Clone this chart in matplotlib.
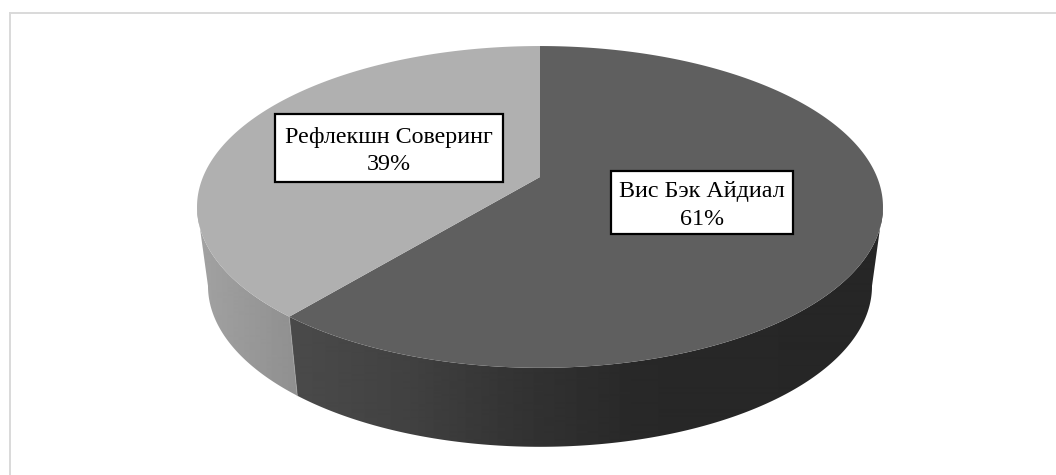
import numpy as np
import matplotlib
matplotlib.use("Agg")
import matplotlib.pyplot as plt
from matplotlib.patches import Polygon, Rectangle

# share of each slice, clockwise from 12 o'clock
labels = ["Вис Бэк Айдиал", "Рефлекшн Соверинг"]
shares = [61, 39]
top_colors = ["#5f5f5f", "#b0b0b0"]

# pie geometry in pixels of the picture (excel style perspective)
cx, cy = 540, 177
persp = 0.186
ky = -122.4
kx = 337
depth = 79
shrink = 0.968


def project(theta):
    # theta measured clockwise from top
    x = np.sin(theta)
    y = np.cos(theta)
    w = 1 + persp * y
    return cx + kx * x / w, (ky * y + cy) / w


def project_low(theta):
    px, py = project(theta)
    return cx + (px - cx) * shrink, py + depth


fig = plt.figure(figsize=(10.56, 4.75), dpi=100)
ax = fig.add_axes([0, 0, 1, 1])
ax.axis("off")

# frame, only top and left are visible in the crop
ax.plot([9.5, 1056], [12.5, 12.5], color="#d9d9d9", lw=1.4)
ax.plot([9.5, 9.5], [12.5, 475], color="#d9d9d9", lw=1.4)

edges = np.cumsum([0] + shares) / sum(shares) * 2 * np.pi

# shade of the side walls goes with x
xs = np.arange(190, 890)
wall_shades = [
    np.interp(xs, [296, 400, 520, 640, 880], [0x4a, 0x42, 0x33, 0x28, 0x26]),
    np.interp(xs, [197, 296], [0xa2, 0x90]),
]

# widest point of the perspective ellipse, the wall starts there
widest = np.arccos(-persp)

# side walls, only the part that faces the viewer
for i in range(len(shares)):
    a0 = max(edges[i], widest)
    a1 = min(edges[i + 1], 2 * np.pi - widest)
    t = np.linspace(a0, a1, 300)
    tx, ty = project(t)
    lx, ly = project_low(t)
    pts = np.column_stack([np.r_[tx, lx[::-1]], np.r_[ty, ly[::-1]]])
    clip = Polygon(pts, fc="none", ec="none", transform=ax.transData)
    ax.add_patch(clip)
    im = ax.imshow(wall_shades[i][None, :], cmap="gray", vmin=0, vmax=255, aspect="auto",
                   extent=[190, 890, 475, 0], interpolation="bilinear")
    im.set_clip_path(clip)

# light seam where the two walls meet
sx, sy = project(edges[1])
lx, ly = project_low(edges[1])
ax.plot([sx, lx], [sy, ly], color="#a8a8a8", lw=0.7, alpha=0.7)

# top face
for i in range(len(shares)):
    t = np.linspace(edges[i], edges[i + 1], 300)
    tx, ty = project(t)
    pts = np.column_stack([np.r_[tx, cx], np.r_[ty, cy]])
    ax.add_patch(Polygon(pts, fc=top_colors[i], ec="none"))

# data labels
boxes = [(611, 171, 182, 63), (274.5, 114, 228.5, 68)]
for name, val, (bx, by, bw, bh) in zip(labels, shares, boxes):
    ax.add_patch(Rectangle((bx, by), bw, bh, fc="white", ec="black", lw=1.6, zorder=5))
    ax.text(bx + bw / 2, by + bh / 2 + 3, f"{name}\n{val}%", ha="center", va="center",
            family="Liberation Serif", fontsize=17.3, color="black",
            linespacing=1.38, zorder=6)

ax.set_xlim(0, 1056)
ax.set_ylim(475, 0)

fig.savefig("out.png", dpi=100)
